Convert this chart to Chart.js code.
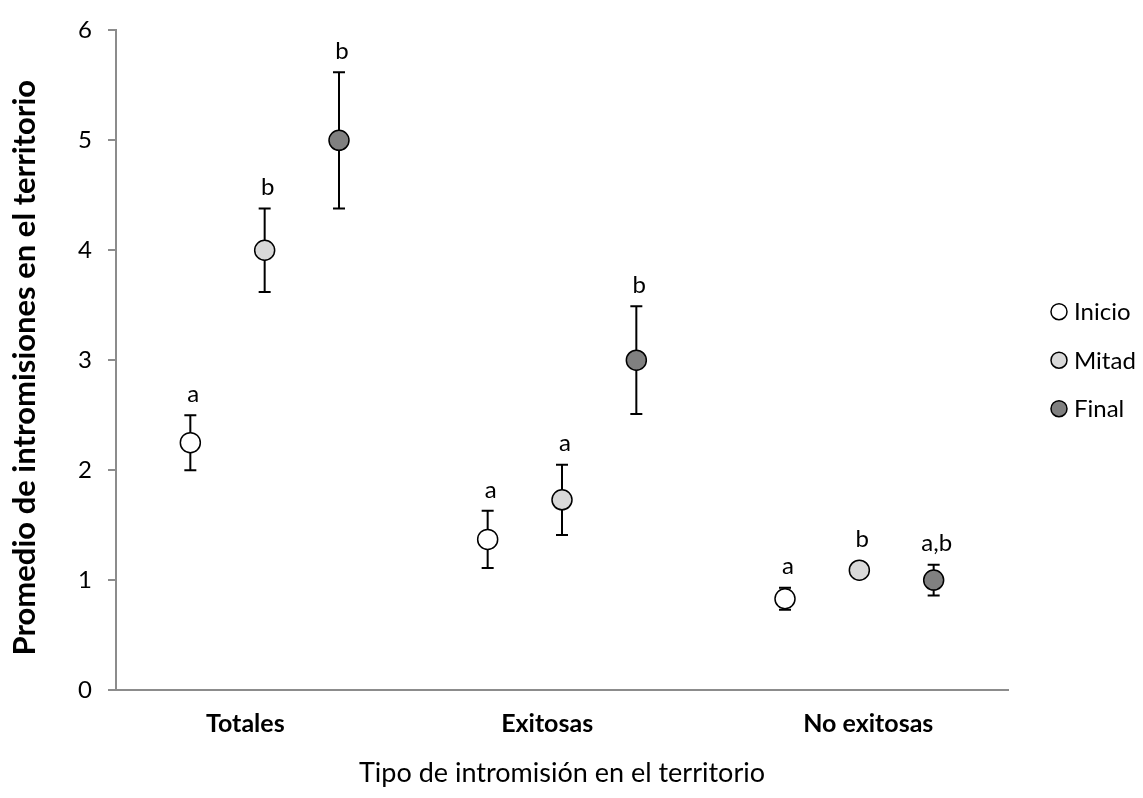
<!DOCTYPE html>
<html>
<head>
<meta charset="utf-8">
<script src="https://cdn.jsdelivr.net/npm/chart.js@4/dist/chart.umd.min.js"></script>
<style>
  html, body { margin: 0; padding: 0; background: #ffffff; }
  #wrap { width: 1143px; height: 798px; }
</style>
</head>
<body>
<div id="wrap"><canvas id="c" width="1143" height="798"></canvas></div>
<script>
// ---- Data ----
const categories = ['Totales', 'Exitosas', 'No exitosas'];
const seriesNames = ['Inicio', 'Mitad', 'Final'];
const inicioValues = [2.25, 1.37, 0.83];
const inicioErrors = [0.25, 0.26, 0.10];
const mitadValues = [4.00, 1.73, 1.09];
const mitadErrors = [0.38, 0.32, 0.02];
const finalValues = [5.00, 3.00, 1.00];
const finalErrors = [0.62, 0.49, 0.14];
const inicioLetters = ['a', 'a', 'a'];
const mitadLetters = ['b', 'a', 'b'];
const finalLetters = ['b', 'b', 'a,b'];
const yTicks = [0, 1, 2, 3, 4, 5, 6];
const categoryLabelAt = [1.74, 5.8, 10.12];

// ---- Styles ----
const FONT = 'Lato, "Open Sans", "DejaVu Sans", sans-serif';
const fills = ['#ffffff', '#d9d9d9', '#808080'];
const axisGray = '#8c8c8c';

const allValues = [inicioValues, mitadValues, finalValues];
const allErrors = [inicioErrors, mitadErrors, finalErrors];
const allLetters = [inicioLetters, mitadLetters, finalLetters];

function xFor(groupIndex, seriesIndex) { return groupIndex * 4 + seriesIndex + 1; }

const datasets = seriesNames.map((name, s) => ({
  label: name,
  data: allValues[s].map((v, g) => ({ x: xFor(g, s), y: v, err: allErrors[s][g], letter: allLetters[s][g] })),
  backgroundColor: fills[s],
  borderColor: '#000000',
  borderWidth: 1.5,
  pointRadius: 10,
  pointHoverRadius: 10,
  pointStyle: 'circle',
  showLine: false
}));

const errorBarPlugin = {
  id: 'errorBars',
  beforeDatasetsDraw(chart) {
    const ctx = chart.ctx;
    const yScale = chart.scales.y;
    ctx.save();
    ctx.strokeStyle = '#000000';
    ctx.lineWidth = 2;
    chart.data.datasets.forEach((ds, di) => {
      const meta = chart.getDatasetMeta(di);
      ds.data.forEach((pt, i) => {
        const el = meta.data[i];
        const x = el.x;
        const yTop = yScale.getPixelForValue(pt.y + pt.err);
        const yBot = yScale.getPixelForValue(pt.y - pt.err);
        const cap = 6;
        ctx.beginPath();
        ctx.moveTo(x, yTop); ctx.lineTo(x, yBot);
        ctx.moveTo(x - cap, yTop); ctx.lineTo(x + cap, yTop);
        ctx.moveTo(x - cap, yBot); ctx.lineTo(x + cap, yBot);
        ctx.stroke();
      });
    });
    ctx.restore();
  },
  afterDatasetsDraw(chart) {
    const ctx = chart.ctx;
    const yScale = chart.scales.y;
    ctx.save();
    ctx.fillStyle = '#000000';
    ctx.font = '24px ' + FONT;
    ctx.textAlign = 'center';
    ctx.textBaseline = 'middle';
    chart.data.datasets.forEach((ds, di) => {
      const meta = chart.getDatasetMeta(di);
      ds.data.forEach((pt, i) => {
        const el = meta.data[i];
        const yTop = Math.min(yScale.getPixelForValue(pt.y + pt.err), el.y - 10);
        ctx.fillText(pt.letter, el.x + 3, yTop - 21);
      });
    });
    ctx.restore();
  },
  afterDraw(chart) {
    // legend
    const ctx = chart.ctx;
    const area = chart.chartArea;
    const cx = area.right + 51;
    const cy = (area.top + area.bottom) / 2;
    ctx.save();
    ctx.font = '24px ' + FONT;
    ctx.textAlign = 'left';
    ctx.textBaseline = 'middle';
    seriesNames.forEach((name, s) => {
      const y = cy + (s - 1) * 48.5;
      ctx.beginPath();
      ctx.arc(cx, y, 8, 0, Math.PI * 2);
      ctx.fillStyle = fills[s];
      ctx.fill();
      ctx.lineWidth = 1.5;
      ctx.strokeStyle = '#000000';
      ctx.stroke();
      ctx.fillStyle = '#000000';
      ctx.fillText(name, cx + 15, y + 1);
    });
    ctx.restore();
  }
};

new Chart(document.getElementById('c'), {
  type: 'scatter',
  data: { datasets },
  options: {
    responsive: false,
    animation: false,
    devicePixelRatio: 1,
    layout: { padding: { top: 22, right: 135, bottom: 0, left: 0 } },
    plugins: { legend: { display: false }, tooltip: { enabled: false } },
    scales: {
      x: {
        type: 'linear',
        min: 0,
        max: 12,
        afterBuildTicks(scale) { scale.ticks = categoryLabelAt.map(v => ({ value: v })); },
        afterFit(scale) { scale.height = 108; },
        ticks: {
          autoSkip: false,
          maxRotation: 0,
          padding: 19,
          color: '#000000',
          font: { family: FONT, size: 25, weight: 'bold' },
          callback(value, index) { return categories[index]; }
        },
        grid: { display: false, drawTicks: false },
        border: { display: true, color: axisGray, width: 2 },
        title: {
          display: true,
          text: 'Tipo de intromisión en el territorio',
          color: '#000000',
          font: { family: FONT, size: 27 },
          padding: { top: 0, bottom: 9 }
        }
      },
      y: {
        min: 0,
        max: 6,
        afterBuildTicks(scale) { scale.ticks = yTicks.map(v => ({ value: v })); },
        afterFit(scale) { scale.width = 116; },
        ticks: {
          padding: 16,
          color: '#000000',
          font: { family: FONT, size: 24 }
        },
        grid: { display: true, drawOnChartArea: false, drawTicks: true, tickLength: 8, color: axisGray, lineWidth: 2 },
        border: { display: true, color: axisGray, width: 2 },
        title: {
          display: true,
          text: 'Promedio de intromisiones en el territorio  ',
          color: '#000000',
          font: { family: FONT, size: 31, weight: 'bold' },
          padding: { top: 6, bottom: 0 }
        }
      }
    }
  },
  plugins: [errorBarPlugin]
});
</script>
</body>
</html>
